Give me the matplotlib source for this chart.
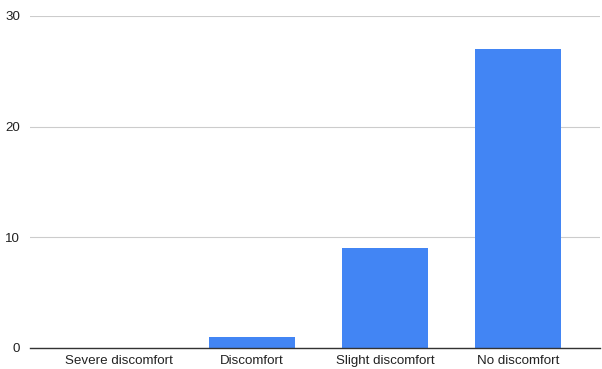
import numpy as np
from matplotlib import pyplot as plt

categories = ['Severe discomfort', 'Discomfort', 'Slight discomfort', 'No discomfort']
counts = [0, 1, 9, 27]
y_ticks = [0, 10, 20, 30]

plt.rcParams['font.family'] = ['Liberation Sans', 'DejaVu Sans']

fig = plt.figure(figsize=(6.02, 3.69), dpi=100)
ax = fig.add_axes([30 / 602, 21 / 369, 570 / 602, 332 / 369])

x = np.arange(len(categories))
ax.bar(x, counts, width=0.647, color='#4285f4', zorder=3)

ax.set_xlim(-0.669, 3.617)
ax.set_ylim(0, 30)
ax.set_yticks(y_ticks)
ax.set_xticks(x)
ax.set_xticklabels(categories)

ax.grid(axis='y', color='#cccccc', linewidth=0.8, zorder=0)
for side in ['top', 'right', 'left']:
    ax.spines[side].set_visible(False)
ax.spines['bottom'].set_color('#333333')
ax.spines['bottom'].set_linewidth(1)
ax.spines['bottom'].set_zorder(4)

ax.tick_params(axis='both', length=0, labelsize=9.6, labelcolor='#222222')
ax.tick_params(axis='y', pad=7)
ax.tick_params(axis='x', pad=5)

fig.savefig('out.png', dpi=100)
